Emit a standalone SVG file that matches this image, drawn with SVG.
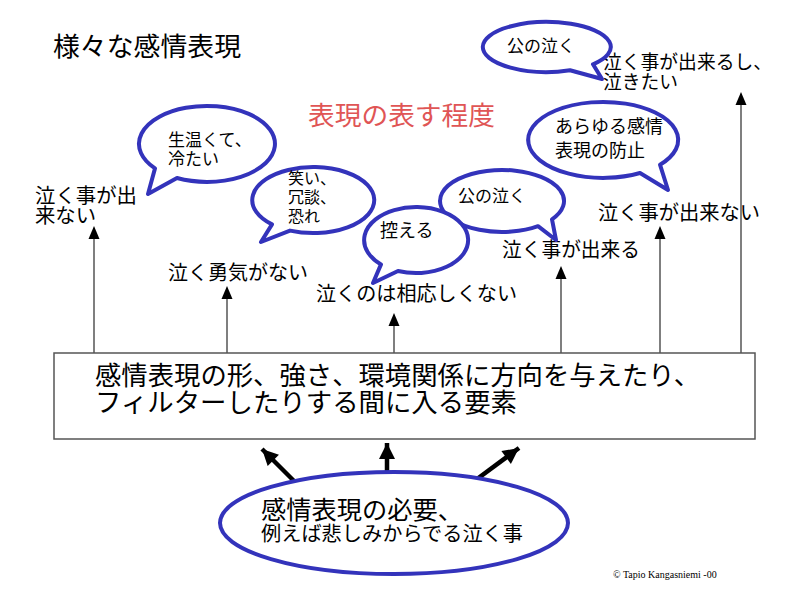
<svg xmlns="http://www.w3.org/2000/svg" width="800" height="600" viewBox="0 0 800 600">
<style>
text{font-family:"Liberation Serif","Noto Sans CJK JP",serif;fill:#000}
.bub{fill:#fff;stroke:#3333bb;stroke-width:4;stroke-linejoin:round}
.thin{stroke:#555;stroke-width:1.5;fill:none}
.thick{stroke:#000;stroke-width:4.5;fill:none}
</style>
<defs>
<marker id="ah" markerUnits="userSpaceOnUse" markerWidth="12" markerHeight="14" refX="6" refY="0" orient="0" overflow="visible">
<path d="M0,0 L-5.5,14 L5.5,14 Z" fill="#000" transform="translate(0,0)"/>
</marker>
<marker id="ahb" markerUnits="userSpaceOnUse" markerWidth="20" markerHeight="20" refX="16" refY="8" orient="auto" overflow="visible">
<path d="M0,0 L16,8 L0,16 Z" fill="#000"/>
</marker>
</defs>
<rect width="800" height="600" fill="#fff"/>

<text id="title" x="53" y="56" font-size="26" textLength="188" lengthAdjust="spacingAndGlyphs">様々な感情表現</text>
<text id="subtitle" x="308" y="125" font-size="26" textLength="187" lengthAdjust="spacingAndGlyphs" style="fill:#e05555">表現の表す程度</text>

<g id="connectors">
<line class="thin" x1="94" y1="353" x2="94" y2="236"/>
<path d="M94,226 L88.5,239 L99.5,239 Z"/>
<line class="thin" x1="227" y1="353" x2="227" y2="296"/>
<path d="M227,286 L221.5,299 L232.5,299 Z"/>
<line class="thin" x1="394" y1="353" x2="394" y2="322"/>
<path d="M394,313 L388.5,326 L399.5,326 Z"/>
<line class="thin" x1="561" y1="353" x2="561" y2="276"/>
<path d="M561,266 L555.5,279 L566.5,279 Z"/>
<line class="thin" x1="660" y1="353" x2="660" y2="236"/>
<path d="M660,226 L654.5,239 L665.5,239 Z"/>
<line class="thin" x1="741" y1="353" x2="741" y2="102"/>
<path d="M741,92 L735.5,105 L746.5,105 Z"/>
<line class="thick" x1="295" y1="482" x2="262" y2="449" marker-end="url(#ahb)"/>
<line class="thick" x1="387" y1="476" x2="387" y2="443" marker-end="url(#ahb)"/>
<line class="thick" x1="473" y1="482" x2="519" y2="448" marker-end="url(#ahb)"/>
</g>

<g id="box">
<rect x="54" y="353" width="701" height="86" fill="#fff" stroke="#555" stroke-width="1.5"/>
<text x="95" y="385" font-size="26" textLength="605" lengthAdjust="spacingAndGlyphs">感情表現の形、強さ、環境関係に方向を与えたり、</text>
<text x="95" y="412" font-size="26" textLength="422" lengthAdjust="spacingAndGlyphs">フィルターしたりする間に入る要素</text>
</g>

<g id="label1"><text x="35" y="203" font-size="20" textLength="102" lengthAdjust="spacingAndGlyphs">泣く事が出</text><text x="35" y="223" font-size="20" textLength="61" lengthAdjust="spacingAndGlyphs">来ない</text></g>
<g id="label2"><text x="168" y="280" font-size="20" textLength="140" lengthAdjust="spacingAndGlyphs">泣く勇気がない</text></g>
<g id="label3"><text x="316" y="301" font-size="20" textLength="201" lengthAdjust="spacingAndGlyphs">泣くのは相応しくない</text></g>
<g id="label4"><text x="502" y="257" font-size="20" textLength="138" lengthAdjust="spacingAndGlyphs">泣く事が出来る</text></g>
<g id="label5"><text x="598" y="220" font-size="20" textLength="162" lengthAdjust="spacingAndGlyphs">泣く事が出来ない</text></g>
<g id="label6"><text x="603" y="69" font-size="19" textLength="169" lengthAdjust="spacingAndGlyphs">泣く事が出来るし、</text><text x="603" y="89" font-size="19" textLength="75" lengthAdjust="spacingAndGlyphs">泣きたい</text></g>

<g id="bubbleC">
<path class="bub" d="M177,178 A68,38 0 1 0 155,168.4 L148,194 Z"/>
<text x="168" y="146" font-size="17">生温くて、</text>
<text x="168" y="165" font-size="17">冷たい</text>
</g>
<g id="bubbleD">
<path class="bub" d="M290,230.6 A61,33 0 1 0 272,224.4 L261,242 Z"/>
<text x="288" y="184" font-size="16">笑い、</text>
<text x="288" y="203" font-size="16">冗談、</text>
<text x="288" y="222" font-size="16">恐れ</text>
</g>
<g id="bubbleA">
<path class="bub" d="M593,64.3 A64,25 0 1 0 570,70.3 L602,79 Z"/>
<text x="507" y="52" font-size="17">公の泣く</text>
</g>
<g id="bubbleB">
<path class="bub" d="M660,164.7 A75,38 0 1 0 640,173 L668,190 Z"/>
<text x="555" y="133" font-size="18">あらゆる感情</text>
<text x="555" y="157" font-size="18">表現の防止</text>
</g>
<g id="bubbleF">
<path class="bub" d="M552,219.3 A62,31 0 1 0 538,226.2 L556,240 Z"/>
<text x="458" y="202" font-size="17">公の泣く</text>
</g>
<g id="bubbleE">
<path class="bub" d="M398,271 A52,33 0 1 0 381,264.4 L373,283 Z"/>
<text x="380" y="237" font-size="18">控える</text>
</g>

<g id="source">
<ellipse cx="394" cy="523" rx="174" ry="51" fill="#fff" stroke="#3333bb" stroke-width="4"/>
<text x="261" y="519" font-size="25" textLength="202" lengthAdjust="spacingAndGlyphs">感情表現の必要、</text>
<text x="261" y="541" font-size="20" textLength="262" lengthAdjust="spacingAndGlyphs">例えば悲しみからでる泣く事</text>
</g>

<text id="copyright" x="613" y="578" font-size="10" style="font-family:'Liberation Serif',serif">© Tapio Kangasniemi -00</text>
</svg>
